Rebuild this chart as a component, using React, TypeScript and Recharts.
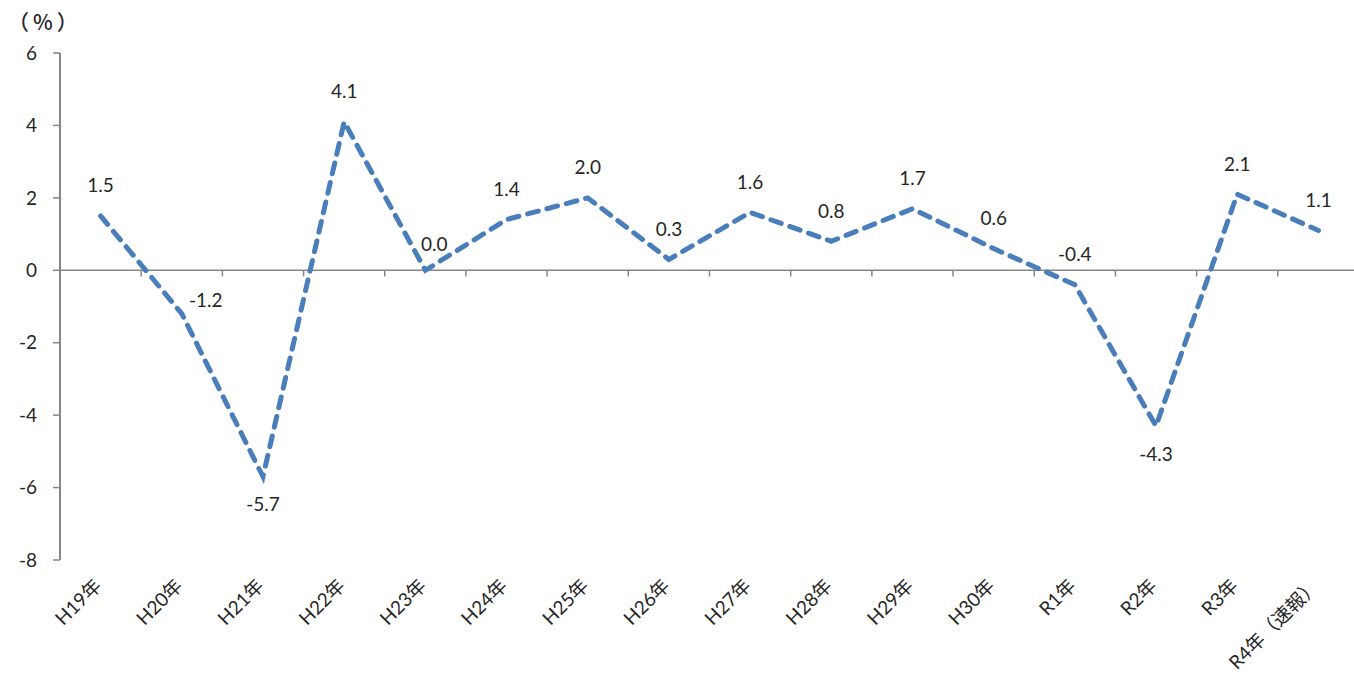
import React from "react";
import { LineChart, Line, XAxis, YAxis, ReferenceLine, LabelList } from "recharts";

const categories = [
  "H19年", "H20年", "H21年", "H22年", "H23年", "H24年", "H25年", "H26年",
  "H27年", "H28年", "H29年", "H30年", "R1年", "R2年", "R3年", "R4年（速報）",
];
const values = [1.5, -1.2, -5.7, 4.1, 0.0, 1.4, 2.0, 0.3, 1.6, 0.8, 1.7, 0.6, -0.4, -4.3, 2.1, 1.1];
const yTicks = [-8, -6, -4, -2, 0, 2, 4, 6];
// where each data label sits relative to its point
const labelPlacement = [
  "top", "right", "bottom", "top", "topRight", "top", "top", "top",
  "top", "top", "top", "top", "top", "bottom", "top", "top",
];

const FONT = "Lato, 'Noto Sans CJK JP', sans-serif";
const TEXT = "#262626";
const AXIS = "#868686";
const BLUE = "#4a7ebb";

const data = categories.map((name, i) => ({ idx: i, name, value: values[i] }));
const xTicks = categories.map((_, i) => i);
const boundaries = categories.slice(1).map((_, i) => i + 0.5);

function XTick(props: any) {
  const { x, y, payload } = props;
  const ax = x + 2;
  const ay = y + 19;
  return (
    <text
      x={ax}
      y={ay}
      textAnchor="end"
      fill={TEXT}
      fontSize={19}
      fontFamily={FONT}
      transform={`rotate(-45, ${ax}, ${ay})`}
    >
      {categories[payload.value]}
    </text>
  );
}

function renderLabel(props: any) {
  const { x, y, value, index } = props;
  const pos = labelPlacement[index];
  let dx = 0;
  let dy = -31;
  if (pos === "bottom") dy = 27;
  if (pos === "topRight") {
    dx = 9;
    dy = -27;
  }
  if (pos === "right") {
    dx = 24;
    dy = -14;
  }
  return (
    <text
      x={x + dx}
      y={y + dy}
      textAnchor="middle"
      dominantBaseline="central"
      fill={TEXT}
      fontSize={19}
      fontFamily={FONT}
    >
      {Number(value).toFixed(1)}
    </text>
  );
}

export default function App() {
  return (
    <div
      style={{
        position: "absolute",
        left: 0,
        top: 0,
        width: 1354,
        height: 676,
        overflow: "hidden",
        background: "#fff",
      }}
    >
      <div
        style={{
          position: "absolute",
          left: 8,
          top: 7,
          fontSize: 21,
          fontWeight: 500,
          letterSpacing: 4,
          color: TEXT,
          fontFamily: "'Noto Sans CJK JP', sans-serif",
          lineHeight: "28px",
        }}
      >
        （%）
      </div>
      <LineChart
        width={1359}
        height={676}
        data={data}
        margin={{ top: 53, right: 0, left: 0, bottom: 0 }}
      >
        <XAxis
          dataKey="idx"
          type="number"
          domain={[-0.5, 15.5]}
          ticks={xTicks}
          interval={0}
          axisLine={false}
          tickLine={false}
          height={116}
          tick={<XTick />}
        />
        <YAxis
          domain={[-8, 6]}
          ticks={yTicks}
          width={60}
          tickSize={7}
          tickMargin={16}
          axisLine={{ stroke: AXIS, strokeWidth: 2 }}
          tickLine={{ stroke: AXIS, strokeWidth: 1.5 }}
          tick={{ fill: TEXT, fontSize: 19, fontFamily: FONT }}
        />
        <ReferenceLine y={0} stroke={AXIS} strokeWidth={1.5} />
        {boundaries.map((b) => (
          <ReferenceLine
            key={b}
            segment={[
              { x: b, y: 0 },
              { x: b, y: -0.17 },
            ]}
            stroke={AXIS}
            strokeWidth={1.5}
          />
        ))}
        <Line
          type="linear"
          dataKey="value"
          stroke={BLUE}
          strokeWidth={5}
          strokeDasharray="11 9"
          strokeLinecap="round"
          dot={false}
          isAnimationActive={false}
        >
          <LabelList dataKey="value" content={renderLabel} />
        </Line>
      </LineChart>
    </div>
  );
}
